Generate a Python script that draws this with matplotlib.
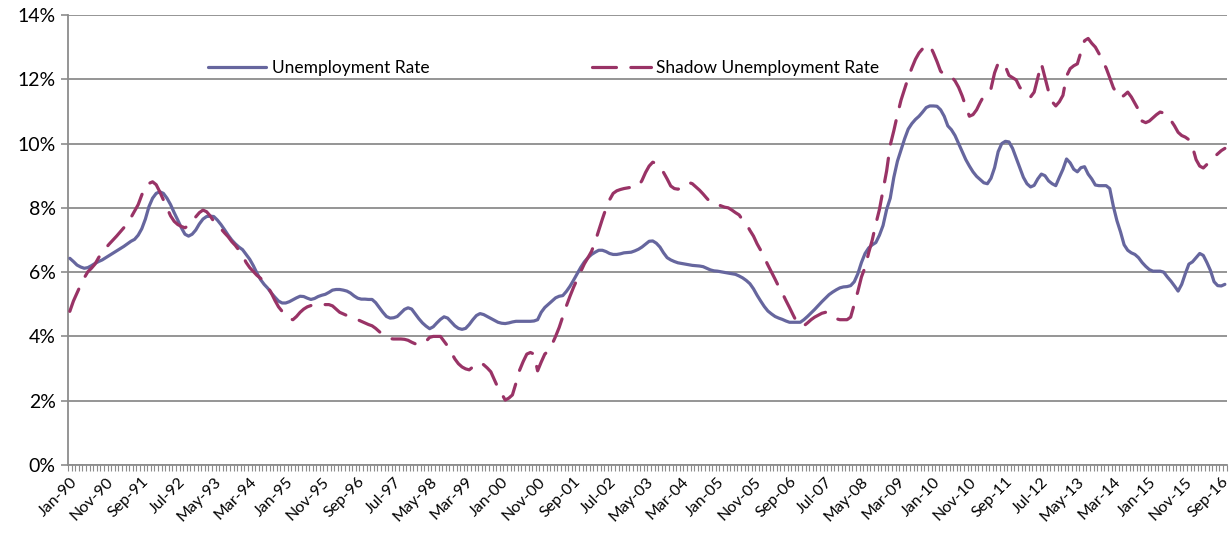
import matplotlib
matplotlib.use("Agg")
import matplotlib.pyplot as plt
from matplotlib.ticker import FixedLocator, FuncFormatter
import pandas as pd
import numpy as np

# Monthly series, Jan-1990 .. Oct-2016 (percent)
months = pd.period_range("1990-01", periods=322, freq="M")

unemployment_rate = [
    # 1990
    6.43, 6.33, 6.22, 6.16, 6.12, 6.14, 6.20, 6.27, 6.33, 6.38, 6.45, 6.52,
    # 1991
    6.59, 6.66, 6.73, 6.80, 6.88, 6.96, 7.02, 7.15, 7.35, 7.65, 8.04, 8.30,
    # 1992
    8.45, 8.50, 8.45, 8.30, 8.10, 7.85, 7.62, 7.38, 7.18, 7.12, 7.18, 7.31,
    # 1993
    7.50, 7.65, 7.73, 7.74, 7.73, 7.62, 7.48, 7.32, 7.15, 7.00, 6.88, 6.78,
    # 1994
    6.70, 6.55, 6.40, 6.20, 5.97, 5.77, 5.62, 5.50, 5.35, 5.22, 5.10, 5.04,
    # 1995
    5.04, 5.08, 5.14, 5.20, 5.25, 5.24, 5.19, 5.15, 5.18, 5.24, 5.28, 5.31,
    # 1996
    5.37, 5.44, 5.46, 5.46, 5.44, 5.41, 5.35, 5.26, 5.19, 5.16, 5.16, 5.15,
    # 1997
    5.15, 5.05, 4.90, 4.75, 4.62, 4.57, 4.58, 4.62, 4.73, 4.84, 4.89, 4.85,
    # 1998
    4.70, 4.55, 4.42, 4.32, 4.24, 4.30, 4.42, 4.53, 4.61, 4.57, 4.45, 4.33,
    # 1999
    4.25, 4.22, 4.25, 4.37, 4.52, 4.65, 4.71, 4.68, 4.62, 4.56, 4.50, 4.44,
    # 2000
    4.41, 4.40, 4.42, 4.45, 4.47, 4.47, 4.47, 4.47, 4.47, 4.48, 4.52, 4.75,
    # 2001
    4.90, 5.00, 5.10, 5.20, 5.25, 5.27, 5.40, 5.56, 5.75, 5.95, 6.15, 6.32,
    # 2002
    6.45, 6.55, 6.62, 6.68, 6.68, 6.64, 6.58, 6.55, 6.55, 6.57, 6.60, 6.61,
    # 2003
    6.62, 6.66, 6.71, 6.78, 6.87, 6.96, 6.97, 6.90, 6.78, 6.60, 6.45, 6.38,
    # 2004
    6.33, 6.29, 6.27, 6.25, 6.23, 6.21, 6.20, 6.19, 6.17, 6.12, 6.07, 6.04,
    # 2005
    6.03, 6.01, 5.99, 5.97, 5.95, 5.93, 5.88, 5.82, 5.74, 5.64, 5.48, 5.28,
    # 2006
    5.10, 4.93, 4.79, 4.70, 4.62, 4.57, 4.53, 4.48, 4.44, 4.44, 4.44, 4.44,
    # 2007
    4.52, 4.62, 4.73, 4.84, 4.96, 5.08, 5.19, 5.30, 5.38, 5.45, 5.51, 5.54,
    # 2008
    5.55, 5.58, 5.70, 5.95, 6.30, 6.58, 6.75, 6.85, 6.92, 7.15, 7.45, 7.95,
    # 2009
    8.30, 8.95, 9.45, 9.80, 10.15, 10.45, 10.62, 10.75, 10.85, 10.98, 11.12, 11.17,
    # 2010
    11.17, 11.16, 11.05, 10.85, 10.55, 10.43, 10.25, 10.00, 9.75, 9.50, 9.30, 9.12,
    # 2011
    8.98, 8.88, 8.78, 8.75, 8.92, 9.25, 9.75, 10.00, 10.07, 10.05, 9.85, 9.55,
    # 2012
    9.25, 8.95, 8.75, 8.65, 8.70, 8.90, 9.05, 9.00, 8.84, 8.75, 8.69, 8.95,
    # 2013
    9.20, 9.52, 9.40, 9.20, 9.12, 9.25, 9.28, 9.05, 8.90, 8.71, 8.69, 8.69,
    # 2014
    8.69, 8.60, 8.05, 7.60, 7.25, 6.85, 6.68, 6.60, 6.55, 6.45, 6.30, 6.18,
    # 2015
    6.08, 6.03, 6.03, 6.03, 6.00, 5.85, 5.72, 5.57, 5.41, 5.62, 5.95, 6.25,
    # 2016
    6.32, 6.45, 6.58, 6.52, 6.30, 6.05, 5.70, 5.58, 5.57, 5.62,
]

shadow_unemployment_rate = [
    # 1990
    4.78, 5.10, 5.35, 5.60, 5.82, 6.01, 6.12, 6.25, 6.45, 6.62, 6.75, 6.88,
    # 1991
    7.00, 7.12, 7.25, 7.38, 7.52, 7.70, 7.90, 8.10, 8.40, 8.68, 8.76, 8.81,
    # 1992
    8.72, 8.50, 8.25, 8.00, 7.75, 7.58, 7.48, 7.42, 7.38, 7.45, 7.58, 7.72,
    # 1993
    7.85, 7.93, 7.88, 7.75, 7.58, 7.47, 7.35, 7.22, 7.10, 6.95, 6.83, 6.68,
    # 1994
    6.52, 6.30, 6.14, 6.02, 5.90, 5.81, 5.70, 5.55, 5.35, 5.12, 4.92, 4.78,
    # 1995
    4.62, 4.55, 4.52, 4.62, 4.75, 4.85, 4.92, 4.96, 4.99, 5.00, 5.00, 4.99,
    # 1996
    4.99, 4.95, 4.85, 4.75, 4.70, 4.65, 4.60, 4.56, 4.52, 4.47, 4.42, 4.37,
    # 1997
    4.33, 4.25, 4.15, 4.05, 3.97, 3.93, 3.92, 3.92, 3.92, 3.91, 3.88, 3.82,
    # 1998
    3.77, 3.74, 3.76, 3.85, 3.97, 4.00, 4.00, 4.00, 3.85, 3.70, 3.50, 3.30,
    # 1999
    3.15, 3.05, 2.99, 2.96, 3.05, 3.15, 3.19, 3.12, 3.02, 2.90, 2.65, 2.40,
    # 2000
    2.22, 2.02, 2.08, 2.18, 2.55, 2.95, 3.22, 3.45, 3.50, 3.45, 2.93, 3.20,
    # 2001
    3.45, 3.55, 3.75, 4.00, 4.28, 4.62, 4.95, 5.25, 5.53, 5.78, 6.02, 6.26,
    # 2002
    6.45, 6.65, 6.95, 7.30, 7.65, 7.98, 8.25, 8.45, 8.53, 8.57, 8.60, 8.62,
    # 2003
    8.64, 8.65, 8.67, 8.85, 9.10, 9.30, 9.42, 9.38, 9.22, 9.10, 8.90, 8.68,
    # 2004
    8.60, 8.58, 8.62, 8.70, 8.79, 8.75, 8.65, 8.55, 8.43, 8.30, 8.18, 8.11,
    # 2005
    8.11, 8.06, 8.02, 8.00, 7.93, 7.85, 7.78, 7.62, 7.50, 7.30, 7.12, 6.88,
    # 2006
    6.68, 6.45, 6.22, 6.00, 5.78, 5.55, 5.35, 5.12, 4.90, 4.67, 4.45, 4.36,
    # 2007
    4.33, 4.42, 4.52, 4.60, 4.66, 4.72, 4.75, 4.72, 4.65, 4.55, 4.52, 4.52,
    # 2008
    4.52, 4.60, 5.00, 5.40, 5.85, 6.15, 6.60, 7.00, 7.50, 7.95, 8.55, 9.15,
    # 2009
    9.95, 10.40, 10.90, 11.35, 11.70, 12.05, 12.35, 12.62, 12.82, 12.95, 13.03, 13.06,
    # 2010
    12.82, 12.55, 12.25, 12.15, 12.10, 12.08, 11.95, 11.75, 11.48, 11.15, 10.85, 10.90,
    # 2011
    11.05, 11.28, 11.48, 11.62, 11.71, 12.20, 12.50, 12.52, 12.40, 12.12, 12.05, 11.98,
    # 2012
    11.75, 11.62, 11.50, 11.45, 11.60, 12.05, 12.49, 12.05, 11.62, 11.30, 11.17, 11.30,
    # 2013
    11.50, 12.10, 12.33, 12.42, 12.48, 12.85, 13.20, 13.27, 13.12, 13.00, 12.80, 12.57,
    # 2014
    12.35, 12.05, 11.74, 11.55, 11.42, 11.50, 11.60, 11.45, 11.25, 11.05, 10.70, 10.65,
    # 2015
    10.70, 10.80, 10.90, 10.98, 10.95, 10.85, 10.72, 10.55, 10.35, 10.25, 10.20, 10.12,
    # 2016
    9.90, 9.50, 9.30, 9.24, 9.35, 9.48, 9.58, 9.68, 9.78, 9.85,
]

series_labels = ["Unemployment Rate", "Shadow Unemployment Rate"]
y_ticks = [0, 2, 4, 6, 8, 10, 12, 14]
label_every = 10  # a category label every 10 months

month_labels = [p.strftime("%b-%y") for p in months]

plt.rcParams["font.family"] = ["Lato", "DejaVu Sans"]

fig = plt.figure(figsize=(12.3, 5.33), dpi=100)
ax = fig.add_axes([0.0553, 0.1276, 0.9420, 0.8443])

x = np.arange(len(months))
grid_col = "#8c8c8c"
blue = "#66669e"
wine = "#993366"

ax.plot(x, unemployment_rate, color=blue, lw=2.3, solid_capstyle="round",
        label=series_labels[0], zorder=3)
ax.plot(x, shadow_unemployment_rate, color=wine, lw=2.3,
        dashes=(7.5, 4.5), dash_capstyle="round",
        label=series_labels[1], zorder=3)

ax.set_xlim(-0.5, len(months) - 0.5)
ax.set_ylim(0, 14)
ax.set_yticks(y_ticks)
ax.yaxis.set_major_formatter(FuncFormatter(lambda v, _: f"{v:.0f}%"))
ax.yaxis.grid(True, color=grid_col, lw=1.3)
ax.set_axisbelow(True)

# category ticks: one small mark per month, a label every 10 months
ax.xaxis.set_minor_locator(FixedLocator(np.arange(len(months) + 1) - 0.5))
label_pos = np.arange(0, len(months), label_every)
ax.set_xticks(label_pos)
ax.set_xticklabels([month_labels[i] for i in label_pos], rotation=45,
                   ha="right", va="top", rotation_mode="anchor", fontsize=11.5)
ax.tick_params(axis="x", which="major", length=0, pad=7)
ax.tick_params(axis="x", which="minor", length=4, width=0.8, color=grid_col)
ax.tick_params(axis="y", which="major", length=5, width=1.2, color=grid_col,
               labelsize=14, pad=4)

for side in ("top", "right"):
    ax.spines[side].set_visible(False)
for side in ("left", "bottom"):
    ax.spines[side].set_color(grid_col)
    ax.spines[side].set_linewidth(1.3)

leg = ax.legend(loc="center left", bbox_to_anchor=(0.1075, 0.882), ncol=2,
                frameon=False, fontsize=12.5, handlelength=3.35,
                handletextpad=0.3, columnspacing=9.4)

fig.savefig("out.png", dpi=100)
